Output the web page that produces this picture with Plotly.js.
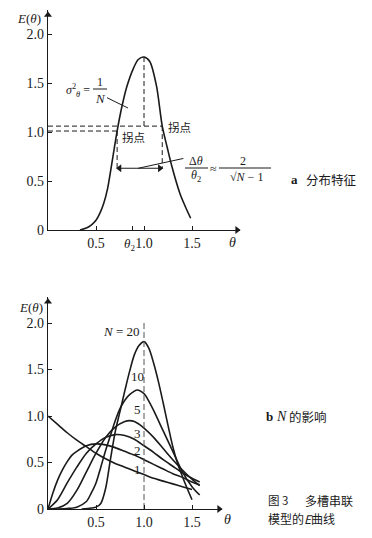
<!DOCTYPE html>
<html>
<head>
<meta charset="utf-8">
<script src="https://cdn.plot.ly/plotly-3.0.1.min.js"></script>
<style>html,body{margin:0;padding:0;background:#fff;}#chart{width:372px;height:538px;}</style>
</head>
<body>
<div id="chart"></div>
<script>
// ---------- data ----------
// (a) distribution characteristics
const topTheta = [0.333, 0.40, 0.45, 0.50, 0.54, 0.58, 0.62, 0.66, 0.72, 0.77, 0.82, 0.89, 0.94, 1.0, 1.06, 1.13, 1.19, 1.24, 1.29, 1.375, 1.43, 1.486];
const topE     = [0, 0.02, 0.05, 0.10, 0.17, 0.27, 0.42, 0.65, 1.01, 1.26, 1.46, 1.65, 1.74, 1.765, 1.72, 1.47, 1.06, 0.85, 0.65, 0.37, 0.24, 0.12];
const inflectTheta = [0.72, 1.19];
const inflectE     = [1.01, 1.06];
const peakTheta = 1.0;
const peakE = 1.765;
const spreadE = 0.63;
const theta2 = 0.885;
const sigmaLeaderTheta = [0.615, 0.833];
const sigmaLeaderE = [1.35, 1.245];
const spreadLeaderTheta = [0.94, 1.41];
const spreadLeaderE = [0.63, 0.73];

// (b) effect of N
const n1Theta  = [0, 0.1, 0.2, 0.3, 0.4, 0.5, 0.6, 0.7, 0.8, 0.9, 1.0, 1.1, 1.2, 1.3, 1.4, 1.5];
const n1E      = [1.0, 0.91, 0.82, 0.74, 0.67, 0.60, 0.54, 0.49, 0.45, 0.41, 0.37, 0.33, 0.30, 0.27, 0.24, 0.21];
const n2Theta  = [0, 0.05, 0.1, 0.15, 0.2, 0.25, 0.3, 0.4, 0.5, 0.6, 0.7, 0.8, 0.9, 1.0, 1.1, 1.2, 1.3, 1.4, 1.5, 1.58];
const n2E      = [0, 0.17, 0.31, 0.42, 0.51, 0.58, 0.62, 0.68, 0.70, 0.69, 0.66, 0.62, 0.58, 0.53, 0.48, 0.43, 0.38, 0.34, 0.29, 0.26];
const n3Theta  = [0, 0.1, 0.2, 0.3, 0.4, 0.5, 0.6, 0.7, 0.8, 0.9, 1.0, 1.1, 1.2, 1.3, 1.4, 1.5, 1.58];
const n3E      = [0, 0.10, 0.28, 0.45, 0.60, 0.70, 0.77, 0.80, 0.79, 0.75, 0.68, 0.61, 0.53, 0.46, 0.39, 0.33, 0.29];
const n5Theta  = [0, 0.1, 0.2, 0.3, 0.4, 0.5, 0.6, 0.7, 0.8, 0.85, 0.9, 1.0, 1.1, 1.2, 1.3, 1.4, 1.5, 1.58];
const n5E      = [0, 0.01, 0.06, 0.20, 0.40, 0.60, 0.77, 0.88, 0.94, 0.95, 0.94, 0.87, 0.77, 0.65, 0.53, 0.42, 0.32, 0.25];
const n10Theta = [0.1, 0.2, 0.3, 0.4, 0.45, 0.5, 0.55, 0.6, 0.65, 0.7, 0.75, 0.8, 0.85, 0.93, 1.0, 1.05, 1.1, 1.2, 1.3, 1.4, 1.5, 1.58];
const n10E     = [0, 0.005, 0.02, 0.08, 0.17, 0.28, 0.45, 0.63, 0.79, 0.95, 1.08, 1.17, 1.23, 1.28, 1.24, 1.16, 1.06, 0.84, 0.62, 0.40, 0.24, 0.15];
const n20Theta = [0.35, 0.45, 0.5, 0.55, 0.6, 0.65, 0.7, 0.75, 0.8, 0.85, 0.9, 0.95, 1.0, 1.05, 1.1, 1.15, 1.2, 1.25, 1.3, 1.35, 1.4, 1.45, 1.5];
const n20E     = [0, 0.01, 0.02, 0.06, 0.22, 0.53, 0.83, 1.05, 1.27, 1.48, 1.66, 1.76, 1.80, 1.73, 1.57, 1.37, 1.14, 0.90, 0.67, 0.49, 0.35, 0.22, 0.10];
const curveLabels = ['N = 20', '10', '5', '3', '2', '1'];
const curveLabelTheta = [0.77, 0.93, 0.93, 0.93, 0.93, 0.93];
const curveLabelE = [1.91, 1.42, 1.065, 0.81, 0.63, 0.43];
const refTheta = 1.0;
const refTop = 2.03;

// axis extents and tick labels
const topRangeTheta = 2.0, topRangeE = 2.245;
const botRangeTheta = 1.8125, botRangeE = 2.28;
const yTickVals = [0, 0.5, 1.0, 1.5, 2.0];
const yTickText = ['0', '0.5', '1.0', '1.5', '2.0'];
const xTickValsTop = [0.5, theta2, 1.0, 1.5];
const xTickTextTop = ['0.5', '', '1.0', '1.5'];
const theta2Label = '<i>θ</i><sub>2</sub>';
const xTickValsBot = [0.5, 1.0, 1.5];
const xTickTextBot = ['0.5', '1.0', '1.5'];

// ---------- styling helpers ----------
const W = 372, H = 538;
const px = v => v / W;
const py = v => 1 - v / H;
const SERIF = 'Liberation Serif, Times New Roman, serif';
const CJK = 'Noto Sans CJK SC, sans-serif';
const INK = '#1a1a1a';
const curveLine = {color: INK, width: 1.6, shape: 'spline', smoothing: 0.8};
const dashLine = {color: INK, width: 1, dash: '5px,3px'};

const traces = [];
// top
traces.push({x: topTheta, y: topE, mode: 'lines', line: curveLine, xaxis: 'x', yaxis: 'y'});
traces.push({x: [0, inflectTheta[0]], y: [inflectE[0], inflectE[0]], mode: 'lines', line: dashLine, xaxis: 'x', yaxis: 'y'});
traces.push({x: [0, inflectTheta[1]], y: [inflectE[1], inflectE[1]], mode: 'lines', line: dashLine, xaxis: 'x', yaxis: 'y'});
traces.push({x: [inflectTheta[0], inflectTheta[0]], y: [inflectE[0], spreadE], mode: 'lines', line: dashLine, xaxis: 'x', yaxis: 'y'});
traces.push({x: [inflectTheta[1], inflectTheta[1]], y: [inflectE[1], spreadE], mode: 'lines', line: dashLine, xaxis: 'x', yaxis: 'y'});
traces.push({x: [peakTheta, peakTheta], y: [peakE, inflectE[1]], mode: 'lines', line: dashLine, xaxis: 'x', yaxis: 'y'});
// spread double arrow
traces.push({x: [inflectTheta[0] + 0.025, inflectTheta[1] - 0.025], y: [spreadE, spreadE], mode: 'lines+markers',
  line: {color: INK, width: 1.2}, marker: {symbol: ['triangle-left', 'triangle-right'], size: 7, color: INK},
  xaxis: 'x', yaxis: 'y', cliponaxis: false});
// leader lines
traces.push({x: sigmaLeaderTheta, y: sigmaLeaderE, mode: 'lines', line: {color: INK, width: 1}, xaxis: 'x', yaxis: 'y'});
traces.push({x: spreadLeaderTheta, y: spreadLeaderE, mode: 'lines', line: {color: INK, width: 1}, xaxis: 'x', yaxis: 'y'});
// axis arrow heads
traces.push({x: [0, topRangeTheta - 0.03], y: [topRangeE - 0.05, 0], mode: 'markers', cliponaxis: false,
  marker: {symbol: ['triangle-up', 'triangle-right'], size: 7, color: INK}, xaxis: 'x', yaxis: 'y'});
traces.push({x: [0, botRangeTheta - 0.03], y: [botRangeE - 0.05, 0], mode: 'markers', cliponaxis: false,
  marker: {symbol: ['triangle-up', 'triangle-right'], size: 7, color: INK}, xaxis: 'x2', yaxis: 'y2'});
// bottom
[[n1Theta, n1E], [n2Theta, n2E], [n3Theta, n3E], [n5Theta, n5E], [n10Theta, n10E], [n20Theta, n20E]].forEach(([t, e]) => {
  traces.push({x: t, y: e, mode: 'lines', line: curveLine, xaxis: 'x2', yaxis: 'y2'});
});
traces.push({x: [refTheta, refTheta], y: [0, refTop], mode: 'lines', line: {color: '#555', width: 1, dash: '6px,3px'}, xaxis: 'x2', yaxis: 'y2'});

const axisCommon = {
  showgrid: false, zeroline: false, showline: true, linecolor: INK, linewidth: 1.3,
  ticks: 'inside', ticklen: 4, tickwidth: 1, tickcolor: INK, tickangle: 0,
  tickfont: {family: SERIF, size: 14, color: INK}, fixedrange: true
};

const ann = [];
function txt(x, y, text, size, family, opts) {
  ann.push(Object.assign({xref: 'paper', yref: 'paper', x: px(x), y: py(y), text: text, showarrow: false,
    xanchor: 'center', yanchor: 'middle', font: {family: family || SERIF, size: size || 13, color: INK}}, opts || {}));
}

// axis titles
txt(29, 18, '<i>E</i>(<i>θ</i>)', 13);
txt(232, 242, '<i>θ</i>', 14);
txt(31, 307, '<i>E</i>(<i>θ</i>)', 13);
txt(227, 519, '<i>θ</i>', 14);
// θ2 tick label, placed just left of the 1.0 label
ann.push({xref: 'x', yref: 'paper', x: theta2, y: py(244), text: theta2Label, showarrow: false,
  xanchor: 'center', yanchor: 'middle', xshift: -3, font: {family: SERIF, size: 13, color: INK}});

// top annotations
txt(78, 91, '<i>σ</i><sup>2</sup><sub><i>θ</i></sub> =', 12);
txt(100, 82, '1', 12);
txt(100, 98, '<i>N</i>', 13);
txt(179, 127, '拐点', 11.5, CJK);
txt(133, 137, '拐点', 11.5, CJK);
txt(196, 161, 'Δ<i>θ</i>', 12);
txt(196, 176, '<i>θ</i><sub>2</sub>', 12);
txt(213, 169, '≈', 12);
txt(243, 161, '2', 12);
txt(246, 177, '√<i>N</i> − 1', 12);
txt(294, 179, '<b>a</b>', 13);
txt(331, 179, '分布特征', 12.5, CJK);

// bottom curve labels
curveLabels.forEach((t, i) => {
  const lab = t.replace('N', '<i>N</i>');
  ann.push({xref: 'x2', yref: 'y2', x: curveLabelTheta[i], y: curveLabelE[i], text: lab, showarrow: false,
    xanchor: 'center', yanchor: 'middle', font: {family: SERIF, size: 13, color: INK}});
});
txt(269, 416, '<b>b</b>', 13);
txt(281, 416, '<i>N</i>', 14);
txt(308, 416, '的影响', 12.5, CJK);
txt(266, 500, '图 3', 11.5, CJK, {xanchor: 'left'});
txt(303, 500, '多槽串联', 12, CJK, {xanchor: 'left'});
txt(266, 518, '模型的<i>E</i>曲线', 12, CJK, {xanchor: 'left'});

const bar = (x0, x1, y) => ({type: 'line', xref: 'paper', yref: 'paper', x0: px(x0), x1: px(x1), y0: py(y), y1: py(y), line: {color: INK, width: 1}});
const shapes = [bar(93, 107, 89), bar(185, 208, 168), bar(219, 271, 168)];

const layout = {
  width: W, height: H, margin: {l: 0, r: 0, t: 0, b: 0},
  paper_bgcolor: '#fff', plot_bgcolor: 'rgba(0,0,0,0)', showlegend: false,
  xaxis: Object.assign({}, axisCommon, {domain: [px(48), px(240)], range: [0, topRangeTheta], anchor: 'y', tickvals: xTickValsTop, ticktext: xTickTextTop}),
  yaxis: Object.assign({}, axisCommon, {domain: [py(230), py(10)], range: [0, topRangeE], anchor: 'x', tickvals: yTickVals, ticktext: yTickText}),
  xaxis2: Object.assign({}, axisCommon, {domain: [px(48), px(222)], range: [0, botRangeTheta], anchor: 'y2', tickvals: xTickValsBot, ticktext: xTickTextBot}),
  yaxis2: Object.assign({}, axisCommon, {domain: [py(509), py(297)], range: [0, botRangeE], anchor: 'x2', tickvals: yTickVals, ticktext: yTickText}),
  annotations: ann, shapes: shapes
};
Plotly.newPlot('chart', traces, layout, {staticPlot: true, displayModeBar: false});
</script>
</body>
</html>
